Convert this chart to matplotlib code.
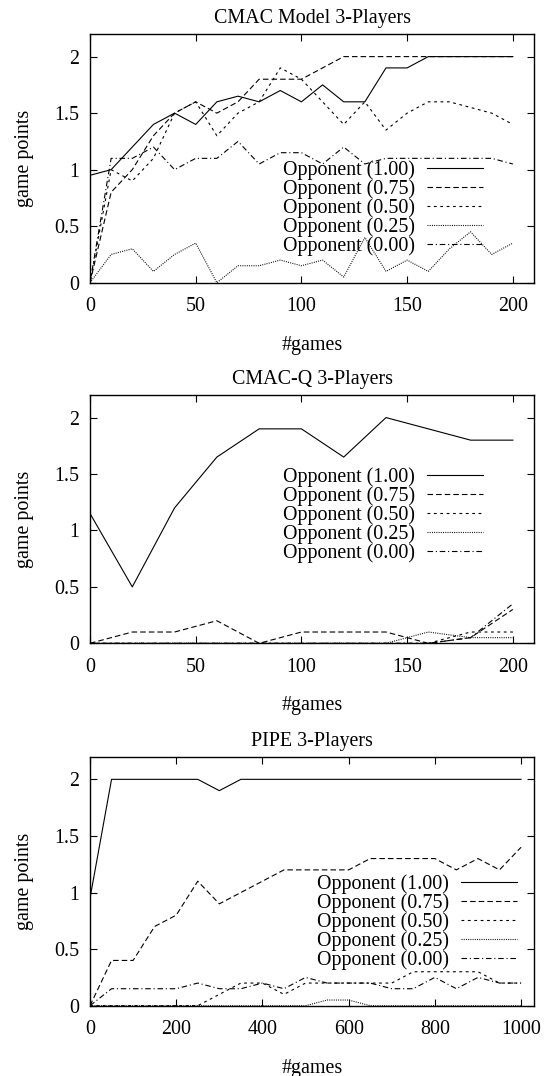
"""
    Three game-point panels (CMAC Model, CMAC-Q, PIPE) for 3-player games.
"""
import matplotlib
matplotlib.use('Agg')
import matplotlib.pyplot as plt

plt.rcParams['font.family'] = ['Liberation Serif', 'DejaVu Serif']
plt.rcParams['font.size'] = 14.4
plt.rcParams['lines.scale_dashes'] = False

labels = ['Opponent (1.00)', 'Opponent (0.75)', 'Opponent (0.50)',
          'Opponent (0.25)', 'Opponent (0.00)']

# CMAC Model, every 10 games
games_cmac = list(range(0, 201, 10))
cmac_100 = [0.95, 1.0, 1.2, 1.4, 1.5, 1.4, 1.6, 1.65, 1.6, 1.7, 1.6,
            1.75, 1.6, 1.6, 1.9, 1.9, 2.0, 2.0, 2.0, 2.0, 2.0]
cmac_075 = [0, 0.8, 1.0, 1.3, 1.5, 1.6, 1.5, 1.6, 1.8, 1.8, 1.8,
            1.9, 2.0, 2.0, 2.0, 2.0, 2.0, 2.0, 2.0, 2.0, 2.0]
cmac_050 = [0, 1.0, 0.9, 1.1, 1.5, 1.6, 1.3, 1.5, 1.6, 1.9, 1.8,
            1.6, 1.4, 1.6, 1.35, 1.5, 1.6, 1.6, 1.55, 1.5, 1.4]
cmac_025 = [0, 0.25, 0.3, 0.1, 0.25, 0.35, 0.0, 0.15, 0.15, 0.2, 0.15,
            0.2, 0.05, 0.4, 0.1, 0.2, 0.1, 0.3, 0.45, 0.25, 0.35]
cmac_000 = [0, 1.1, 1.1, 1.2, 1.0, 1.1, 1.1, 1.25, 1.05, 1.15, 1.15,
            1.05, 1.2, 1.05, 1.1, 1.1, 1.1, 1.1, 1.1, 1.1, 1.05]

# CMAC-Q, every 20 games
games_q = list(range(0, 201, 20))
q_100 = [1.15, 0.5, 1.2, 1.65, 1.9, 1.9, 1.65, 2.0, 1.9, 1.8, 1.8]
q_075 = [0, 0.1, 0.1, 0.2, 0, 0.1, 0.1, 0.1, 0, 0.05, 0.3]
q_050 = [0, 0, 0, 0, 0, 0, 0, 0, 0, 0.1, 0.1]
q_025 = [0, 0, 0, 0, 0, 0, 0, 0, 0.1, 0.05, 0.05]
q_000 = [0, 0, 0, 0, 0, 0, 0, 0, 0, 0.05, 0.35]

# PIPE, every 50 games
games_pipe = list(range(0, 1001, 50))
pipe_100 = [0.95, 2, 2, 2, 2, 2, 1.9, 2, 2, 2, 2,
            2, 2, 2, 2, 2, 2, 2, 2, 2, 2]
pipe_075 = [0, 0.4, 0.4, 0.7, 0.8, 1.1, 0.9, 1.0, 1.1, 1.2, 1.2,
            1.2, 1.2, 1.3, 1.3, 1.3, 1.3, 1.2, 1.3, 1.2, 1.4]
pipe_050 = [0, 0, 0, 0, 0, 0, 0.1, 0.2, 0.2, 0.1, 0.2,
            0.2, 0.2, 0.2, 0.2, 0.3, 0.3, 0.3, 0.3, 0.2, 0.2]
pipe_025 = [0, 0, 0, 0, 0, 0, 0, 0, 0, 0, 0,
            0.05, 0.05, 0, 0, 0, 0, 0, 0, 0, 0]
pipe_000 = [0, 0.15, 0.15, 0.15, 0.15, 0.2, 0.15, 0.15, 0.2, 0.15, 0.25,
            0.2, 0.2, 0.2, 0.15, 0.15, 0.25, 0.15, 0.25, 0.2, 0.2]

# gnuplot-like line types
styles = ['-', (0, (4, 2.2)), (0, (2, 2.6)), (0, (0.7, 0.9)),
          (0, (4, 2, 0.8, 2))]

W, H = 544, 1076


def px_box(left, top, right, bottom):
    return [left / W, 1 - bottom / H, (right - left) / W, (bottom - top) / H]


def panel(fig, box, title, x, series, xmax, xticks, leg_xy):
    ax = fig.add_axes(px_box(*box))
    for ys, ls, lab in zip(series, styles, labels):
        ax.plot(x, ys, color='black', lw=0.8, linestyle=ls, label=lab)
    ax.set_xlim(0, xmax)
    ax.set_ylim(0, 2.2)
    ax.set_xticks(xticks)
    ax.set_yticks([0, 0.5, 1, 1.5, 2])
    ax.set_yticklabels(['0', '0.5', '1', '1.5', '2'])
    ax.tick_params(direction='in', length=5, width=0.8, top=True, right=True)
    ax.tick_params(axis='x', pad=10.5)
    ax.tick_params(axis='y', pad=8)
    for s in ax.spines.values():
        s.set_linewidth(1.0)
    ax.set_title(title, fontsize=14.4, pad=8)
    ax.set_xlabel('#games', labelpad=14)
    ax.set_ylabel('game points', labelpad=14)
    ax.legend(loc='center left', bbox_to_anchor=(leg_xy[0] / W, 1 - leg_xy[1] / H),
              bbox_transform=fig.transFigure, frameon=False, markerfirst=False,
              handlelength=2.8, handletextpad=0.6, labelspacing=-0.04,
              borderpad=0, borderaxespad=0, fontsize=14.4)
    return ax


fig = plt.figure(figsize=(W / 100, H / 100), dpi=100)

panel(fig, (90, 34, 534, 282.7), 'CMAC Model 3-Players', games_cmac,
      [cmac_100, cmac_075, cmac_050, cmac_025, cmac_000],
      210, [0, 50, 100, 150, 200], (283, 208))
panel(fig, (90, 395, 534, 643.3), 'CMAC-Q 3-Players', games_q,
      [q_100, q_075, q_050, q_025, q_000],
      210, [0, 50, 100, 150, 200], (283, 515))
panel(fig, (90, 756.7, 534, 1005.7), 'PIPE 3-Players', games_pipe,
      [pipe_100, pipe_075, pipe_050, pipe_025, pipe_000],
      1030, [0, 200, 400, 600, 800, 1000], (316.7, 922))

fig.savefig('out.png', dpi=100)
